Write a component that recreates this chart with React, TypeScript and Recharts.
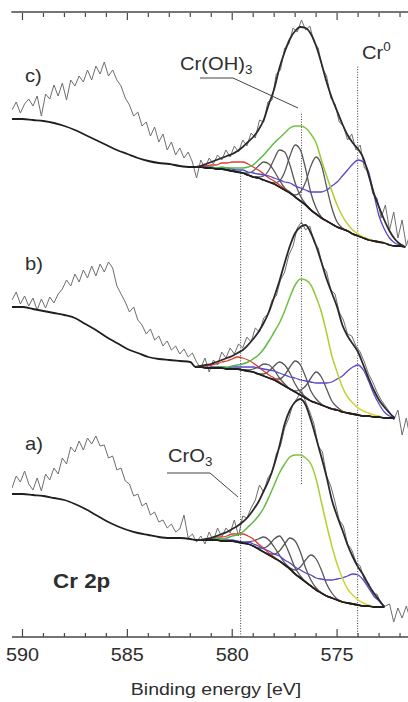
import React from "react";
import { ComposedChart, Line, XAxis, YAxis, ReferenceLine } from "recharts";

// energy grids (eV), high BE first
const grid = (start: number, step: number, n: number) =>
  Array.from({ length: n }, (_, i) => Math.round((start - step * i) * 100) / 100);

const RAW_E = grid(590.5, 0.2, 96);
const FIT_E = grid(581.75, 0.25, 41);
const TAIL_E = [590.5, 590, 589.5, 589, 588.5, 588, 587.5, 587, 586.5, 586, 585.5, 585, 584.5, 584, 583.5, 583, 582.5, 582];

const TICKS = [572, 573, 574, 575, 576, 577, 578, 579, 580, 581, 582, 583, 584, 585, 586, 587, 588, 589, 590];
const X_DOMAIN = [571, 590.5];

// reference energies: CrO3, Cr(OH)3, Cr0
const MARK_E = [579.6, 576.7, 574.02];

// measured spectra (a.u., stacked with offsets)
const RAW_C = [
  527, 535, 524, 533, 538, 531, 541, 521, 543, 538,
  552, 541, 554, 537, 557, 551, 561, 555, 567, 557,
  571, 563, 575, 561, 567, 557, 551, 539, 532, 521,
  525, 511, 515, 501, 510, 495, 503, 487, 495, 482,
  489, 479, 485, 475, 459, 477, 469, 479, 473, 482,
  477, 487, 480, 491, 485, 497, 491, 504, 499, 517,
  515, 535, 537, 563, 567, 589, 593, 609, 605, 617,
  607, 611, 595, 589, 569, 561, 539, 533, 515, 511,
  497, 503, 487, 492, 469, 465, 443, 439, 419, 432,
  407, 425, 399, 417, 391, 405,
];
const RAW_B = [
  337, 345, 333, 341, 331, 339, 327, 338, 329, 340,
  334, 343, 348, 357, 351, 363, 355, 367, 359, 371,
  361, 373, 365, 375, 369, 351, 343, 335, 325, 330,
  317, 312, 303, 308, 297, 301, 291, 296, 287, 291,
  283, 288, 280, 284, 275, 269, 279, 265, 277, 272,
  285, 279, 289, 283, 293, 289, 300, 295, 309, 305,
  319, 323, 337, 341, 357, 365, 382, 391, 409, 415,
  407, 411, 395, 389, 371, 365, 347, 343, 325, 317,
  303, 301, 291, 285, 275, 263, 255, 245, 237, 231,
  225, 217, 227, 202, 219, 197,
];
const RAW_A = [
  149, 161, 155, 166, 153, 147, 159, 146, 163, 157,
  169, 163, 179, 173, 190, 185, 196, 187, 199, 193,
  201, 191, 192, 179, 181, 167, 169, 156, 153, 141,
  143, 131, 134, 122, 125, 115, 117, 109, 113, 105,
  108, 122, 99, 103, 95, 101, 93, 105, 96, 109,
  100, 109, 104, 117, 101, 121, 119, 129, 137, 152,
  145, 159, 165, 183, 191, 209, 219, 233, 239, 247,
  235, 225, 213, 191, 185, 161, 151, 135, 117, 111,
  93, 87, 75, 71, 57, 54, 43, 43, 33, 31,
  33, 15, 29, 19, 31, 17,
];

// background outside the fit window (on TAIL_E)
const TAIL_C = [518, 518, 517, 516, 514, 511, 507, 502, 497, 492, 487, 483, 479, 476, 474, 473, 471, 470];
const TAIL_B = [330, 330, 328, 326, 324, 322, 319, 313, 307, 300, 294, 288, 284, 280, 278, 277, 276, 275];
const TAIL_A = [143, 143, 142, 141, 139, 137, 133, 128, 122, 116, 111, 107, 104, 102, 100, 99, 99, 98];

// background + envelope inside the fit window (on FIT_E)
const BG_C = [470, 470, 469, 469, 468, 468, 467, 466, 465, 464, 462, 460, 459, 457, 455, 453, 450, 447, 444, 440, 436, 432, 427, 423, 419, 416, 413, 410, 408, 406, 403, 401, 399, 397, 396, 395, 394, 392, 391, 391, 390];
const ENV_C = [470, 471, 473, 475, 477, 479, 481, 483, 486, 490, 495, 500, 507, 517, 533, 548, 569, 585, 598, 606, 610, 609, 603, 591, 574, 555, 539, 526, 513, 502, 494, 488, 479, 462, 444, 430, 417, 406, 398, 393, 390];
const BG_B = [270, 270, 269, 269, 269, 269, 268, 268, 268, 267, 266, 265, 263, 261, 259, 257, 254, 251, 248, 245, 242, 239, 236, 234, 232, 230, 228, 227, 225, 224, 223, 222, 221, 221, 220, 220, 219, 219, 219, null, null];
const ENV_B = [270, 271, 272, 273, 275, 277, 279, 281, 284, 287, 292, 298, 305, 314, 325, 340, 356, 374, 391, 404, 410, 412, 404, 391, 375, 358, 344, 330, 312, 301, 293, 285, 272, 259, 247, 237, 230, 224, 219, null, null];
const BG_A = [97, 97, 97, 97, 97, 96, 96, 96, 95, 94, 93, 91, 88, 85, 82, 79, 76, 72, 68, 63, 59, 55, 51, 47, 44, 41, 39, 37, 35, 34, 33, 32, 31, 31, 30, 30, 30, null, null, null, null];
const ENV_A = [97, 97, 98, 99, 101, 103, 105, 108, 111, 115, 120, 127, 135, 146, 157, 172, 191, 213, 227, 235, 238, 232, 217, 199, 180, 160, 137, 121, 107, 92, 80, 70, 62, 52, 44, 37, 30, null, null, null, null];

// fitted components, height above background (on FIT_E)
const OH_C = [0, 0, 0, 1, 1, 2, 2, 3, 4, 5, 8, 12, 18, 25, 33, 41, 49, 57, 65, 71, 75, 77, 76, 71, 58, 45, 33, 22, 13, 7, 4, 2, 1, 1, 0, 0, 0, 0, 0, 0, 0];
const CR0_C = [0, 0, 1, 1, 1, 1, 2, 2, 2, 3, 3, 4, 4, 5, 6, 6, 7, 8, 10, 11, 13, 15, 18, 22, 26, 31, 38, 45, 53, 61, 70, 76, 76, 68, 47, 26, 14, 7, 3, 1, 0];
const CRO3_C = [0, 1, 2, 3, 4, 6, 7, 9, 10, 11, 11, 10, 8, 6, 4, 3, 2, 1, 0, 0, 0, 0, 0, 0, 0, 0, 0, 0, 0, 0, 0, 0, 0, 0, 0, 0, 0, 0, 0, 0, 0];
const OX_C = [
  [0, 0, 0, 0, 0, 0, 0, 0, 0, 0, 2, 6, 12, 18, 18, 13, 7, 2, 1, 0, 0, 0, 0, 0, 0, 0, 0, 0, 0, 0, 0, 0, 0, 0, 0, 0, 0, 0, 0, 0, 0],
  [0, 0, 0, 0, 0, 0, 0, 0, 0, 0, 0, 0, 1, 4, 12, 25, 37, 38, 28, 14, 5, 1, 0, 0, 0, 0, 0, 0, 0, 0, 0, 0, 0, 0, 0, 0, 0, 0, 0, 0, 0],
  [0, 0, 0, 0, 0, 0, 0, 0, 0, 0, 0, 0, 0, 0, 0, 1, 6, 18, 37, 52, 51, 36, 17, 6, 1, 0, 0, 0, 0, 0, 0, 0, 0, 0, 0, 0, 0, 0, 0, 0, 0],
  [0, 0, 0, 0, 0, 0, 0, 0, 0, 0, 0, 0, 0, 0, 0, 0, 0, 0, 0, 2, 9, 23, 44, 57, 53, 34, 16, 5, 1, 0, 0, 0, 0, 0, 0, 0, 0, 0, 0, 0, 0],
];

const OH_B = [0, 0, 0, 0, 1, 1, 2, 3, 4, 6, 9, 13, 19, 27, 37, 48, 60, 75, 92, 107, 116, 118, 116, 106, 93, 74, 53, 38, 25, 16, 11, 7, 5, 3, 2, 1, 0, 0, 0, 0, 0];
const CR0_B = [0, 0, 0, 1, 1, 1, 1, 2, 2, 3, 4, 5, 6, 7, 8, 9, 10, 11, 12, 14, 15, 17, 19, 20, 22, 24, 27, 31, 36, 42, 47, 50, 46, 35, 23, 13, 6, 2, 0, 0, 0];
const CRO3_B = [0, 1, 2, 3, 4, 6, 8, 10, 12, 12, 11, 9, 7, 5, 3, 2, 1, 0, 0, 0, 0, 0, 0, 0, 0, 0, 0, 0, 0, 0, 0, 0, 0, 0, 0, 0, 0, 0, 0, 0, 0];
const OX_B = [
  [0, 0, 0, 0, 0, 0, 0, 0, 0, 0, 1, 3, 7, 12, 13, 10, 5, 2, 0, 0, 0, 0, 0, 0, 0, 0, 0, 0, 0, 0, 0, 0, 0, 0, 0, 0, 0, 0, 0, 0, 0],
  [0, 0, 0, 0, 0, 0, 0, 0, 0, 0, 0, 0, 0, 2, 7, 14, 21, 21, 16, 8, 3, 1, 0, 0, 0, 0, 0, 0, 0, 0, 0, 0, 0, 0, 0, 0, 0, 0, 0, 0, 0],
  [0, 0, 0, 0, 0, 0, 0, 0, 0, 0, 0, 0, 0, 0, 0, 1, 4, 11, 22, 31, 30, 21, 10, 4, 1, 0, 0, 0, 0, 0, 0, 0, 0, 0, 0, 0, 0, 0, 0, 0, 0],
  [0, 0, 0, 0, 0, 0, 0, 0, 0, 0, 0, 0, 0, 0, 0, 0, 0, 0, 0, 1, 5, 12, 23, 31, 28, 18, 8, 3, 1, 0, 0, 0, 0, 0, 0, 0, 0, 0, 0, 0, 0],
];

const OH_A = [0, 0, 1, 1, 2, 2, 3, 5, 7, 11, 17, 24, 33, 44, 58, 73, 88, 101, 112, 119, 123, 124, 122, 111, 91, 71, 52, 36, 24, 14, 9, 5, 3, 1, 0, 0, 0, 0, 0, 0, 0];
const CR0_A = [0, 0, 0, 0, 0, 1, 1, 1, 1, 1, 2, 2, 3, 3, 4, 4, 5, 5, 6, 7, 8, 9, 11, 12, 14, 16, 18, 21, 24, 27, 30, 30, 26, 18, 11, 6, 0, 0, 0, 0, 0];
const CRO3_A = [0, 0, 1, 2, 3, 4, 5, 7, 8, 9, 8, 7, 5, 4, 2, 1, 0, 0, 0, 0, 0, 0, 0, 0, 0, 0, 0, 0, 0, 0, 0, 0, 0, 0, 0, 0, 0, 0, 0, 0, 0];
const OX_A = [
  [0, 0, 0, 0, 0, 0, 0, 0, 0, 0, 2, 5, 10, 15, 15, 11, 6, 2, 1, 0, 0, 0, 0, 0, 0, 0, 0, 0, 0, 0, 0, 0, 0, 0, 0, 0, 0, 0, 0, 0, 0],
  [0, 0, 0, 0, 0, 0, 0, 0, 0, 0, 0, 0, 1, 4, 10, 19, 25, 22, 14, 6, 2, 0, 0, 0, 0, 0, 0, 0, 0, 0, 0, 0, 0, 0, 0, 0, 0, 0, 0, 0, 0],
  [0, 0, 0, 0, 0, 0, 0, 0, 0, 0, 0, 0, 0, 0, 1, 4, 10, 21, 31, 33, 26, 14, 6, 2, 0, 0, 0, 0, 0, 0, 0, 0, 0, 0, 0, 0, 0, 0, 0, 0, 0],
  [0, 0, 0, 0, 0, 0, 0, 0, 0, 0, 0, 0, 0, 0, 0, 0, 0, 0, 1, 4, 11, 22, 31, 31, 23, 12, 5, 1, 0, 0, 0, 0, 0, 0, 0, 0, 0, 0, 0, 0, 0],
];

const SPECTRA = [
  { id: "a", raw: RAW_A, tail: TAIL_A, bg: BG_A, env: ENV_A, oh: OH_A, cr0: CR0_A, cro3: CRO3_A, ox: OX_A },
  { id: "b", raw: RAW_B, tail: TAIL_B, bg: BG_B, env: ENV_B, oh: OH_B, cr0: CR0_B, cro3: CRO3_B, ox: OX_B },
  { id: "c", raw: RAW_C, tail: TAIL_C, bg: BG_C, env: ENV_C, oh: OH_C, cr0: CR0_C, cro3: CRO3_C, ox: OX_C },
];

const Y_TOP = 625;
const FONT = '"Liberation Sans", Arial, sans-serif';
const INK = "#2e2e2e";
const AXIS = "#474747";

type Val = number | null;
const rows = (es: number[], vs: Val[]) => es.map((e, i) => ({ e, v: vs[i] }));
const onBg = (bg: Val[], h: number[]) => bg.map((b, i) => (b == null ? null : b + h[i]));

const BottomTick = (p: any) => {
  const { x, y, payload } = p;
  const major = payload.value % 5 === 0;
  return (
    <g>
      <line x1={x} x2={x} y1={y} y2={y - (major ? 8 : 4)} stroke={AXIS} strokeWidth={1.2} />
      {major && (
        <text
          transform={`translate(${x} ${y + 24}) scale(1.1 1)`}
          textAnchor="middle"
          fontSize={18}
          fontFamily={FONT}
          fill={INK}
        >
          {payload.value}
        </text>
      )}
    </g>
  );
};

const Txt = ({ x, y, size = 18, sx = 1.12, bold = false, anchor = "start", children }: any) => (
  <text
    transform={`translate(${x} ${y}) scale(${sx} 1)`}
    fontSize={size}
    fontWeight={bold ? 700 : 400}
    fontFamily={FONT}
    fill={INK}
    textAnchor={anchor}
  >
    {children}
  </text>
);

export default function App() {
  const spans = [
    [0, 467],
    [153, 525],
    [0, 572],
  ];
  const line = (key: string, data: any[], stroke: string, width: number, type: any = "monotone") => (
    <Line
      key={key}
      data={data}
      dataKey="v"
      type={type}
      stroke={stroke}
      strokeWidth={width}
      dot={false}
      activeDot={false}
      isAnimationActive={false}
      connectNulls={false}
    />
  );

  return (
    <div style={{ position: "relative", width: 408, height: 702, overflow: "hidden", background: "#fff" }}>
      <style>{`html,body{margin:0;padding:0;overflow:hidden;background:#fff}`}</style>
      <svg width={0} height={0} style={{ position: "absolute" }}>
        <defs>
          <linearGradient id="ohFade" x1="0" y1="0" x2="1" y2="0">
            <stop offset="0%" stopColor="#3aae4a" />
            <stop offset="50%" stopColor="#74c043" />
            <stop offset="68%" stopColor="#b2cf2e" />
            <stop offset="84%" stopColor="#d8d43a" />
            <stop offset="100%" stopColor="#e2cf4a" />
          </linearGradient>
        </defs>
      </svg>
      <ComposedChart width={440} height={702} margin={{ top: 12, right: 19, bottom: 0, left: 12 }}>
        <XAxis
          dataKey="e"
          type="number"
          domain={X_DOMAIN}
          reversed
          allowDataOverflow
          ticks={TICKS}
          interval={0}
          height={65}
          tickSize={0}
          tickMargin={0}
          tickLine={false}
          tick={BottomTick}
          axisLine={{ stroke: AXIS, strokeWidth: 1.4 }}
        />
        <YAxis
          type="number"
          domain={[0, Y_TOP]}
          allowDataOverflow
          width={0}
          tick={false}
          tickLine={false}
          axisLine={{ stroke: AXIS, strokeWidth: 1.4 }}
        />
        {/* inward ticks under the top frame edge */}
        {TICKS.map((t) => (
          <ReferenceLine
            key={`t${t}`}
            segment={[
              { x: t, y: Y_TOP - 1 },
              { x: t, y: Y_TOP - (t % 5 === 0 ? 8 : 5) },
            ]}
            stroke={AXIS}
            strokeWidth={1.2}
            ifOverflow="visible"
          />
        ))}
        {MARK_E.map((e, i) => (
          <ReferenceLine
            key={`m${i}`}
            segment={[
              { x: e, y: spans[i][0] },
              { x: e, y: spans[i][1] },
            ]}
            stroke="#3a3a3a"
            strokeWidth={1}
            strokeDasharray="1 1.6"
            ifOverflow="visible"
          />
        ))}
        {SPECTRA.map((s) => line(`raw${s.id}`, rows(RAW_E, s.raw), "#6e6e6e", 1, "linear"))}
        {SPECTRA.flatMap((s) =>
          s.ox.map((h, k) => line(`ox${s.id}${k}`, rows(FIT_E, onBg(s.bg, h)), "#575757", 1.3))
        )}
        {SPECTRA.map((s) => line(`cro3${s.id}`, rows(FIT_E, onBg(s.bg, s.cro3)), "#e23b2e", 1.3))}
        {SPECTRA.map((s) => line(`cr0${s.id}`, rows(FIT_E, onBg(s.bg, s.cr0)), "#5548c9", 1.3))}
        {SPECTRA.map((s) => line(`oh${s.id}`, rows(FIT_E, onBg(s.bg, s.oh)), "url(#ohFade)", 1.5))}
        {SPECTRA.map((s) =>
          line(`bg${s.id}`, [...rows(TAIL_E, s.tail), ...rows(FIT_E, s.bg)], "#1f1f1f", 1.8)
        )}
        {SPECTRA.map((s) => line(`env${s.id}`, rows(FIT_E, s.env), "#2a2a2a", 1.8))}
      </ComposedChart>
      <svg
        width={408}
        height={702}
        style={{ position: "absolute", left: 0, top: 0, pointerEvents: "none" }}
      >
        {/* top frame edge */}
        <line x1={11.3} x2={408} y1={12} y2={12} stroke={AXIS} strokeWidth={1.4} />
        <Txt x={25} y={82}>c)</Txt>
        <Txt x={25} y={270}>b)</Txt>
        <Txt x={25} y={450}>a)</Txt>
        <Txt x={53} y={588} size={19.5} sx={1.15} bold>
          Cr 2p
        </Txt>
        <Txt x={180} y={70}>
          Cr(OH)
          <tspan fontSize={12} dy={4}>3</tspan>
        </Txt>
        <Txt x={362} y={59}>
          Cr
          <tspan fontSize={12} dy={-8}>0</tspan>
        </Txt>
        <Txt x={168} y={462}>
          CrO
          <tspan fontSize={12} dy={4}>3</tspan>
        </Txt>
        <Txt x={216} y={695} size={17} sx={1.15} anchor="middle">
          Binding energy [eV]
        </Txt>
        <polyline points="200,78 233,78 298,108" fill="none" stroke="#444" strokeWidth={1} />
        <polyline points="167,473 210,473 238,497" fill="none" stroke="#444" strokeWidth={1} />
      </svg>
    </div>
  );
}
